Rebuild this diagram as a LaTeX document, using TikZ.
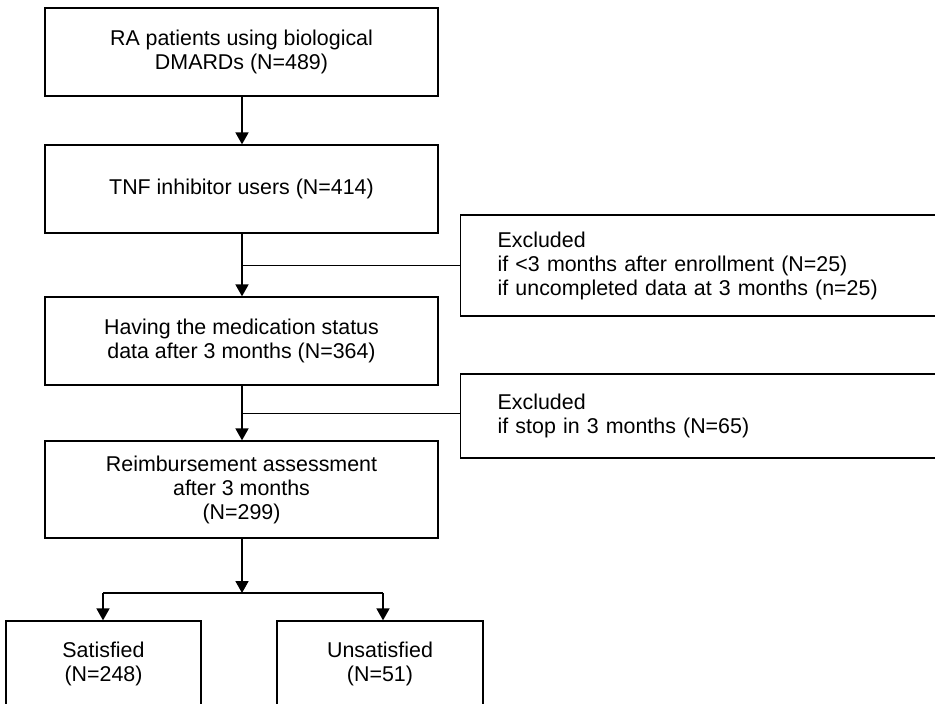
\documentclass[tikz,border=0pt]{standalone}
\usepackage{fontspec}
\setmainfont{Liberation Sans}
\usetikzlibrary{arrows.meta}
\begin{document}
\begin{tikzpicture}[x=1pt,y=-1pt,
  every node/.style={font=\fontsize{21.4}{24}\selectfont},
  mainbox/.style={draw=black,line width=1.3pt,rectangle,align=center,minimum width=393pt,inner sep=0pt},
  exclbox/.style={draw=black,line width=1.3pt,rectangle,align=left,text width=416pt,inner xsep=37pt,inner ysep=0pt,anchor=west},
  stem/.style={line width=1.8pt,-{Triangle[length=12pt,width=13pt]}},
  plainstem/.style={line width=1.8pt},
  branch/.style={line width=1pt}]
\clip (0,0) rectangle (935,704);
\fill[white] (0,0) rectangle (935,704);
\node[mainbox,minimum height=88pt] (b1) at (241.5,52) {RA patients using biological\\DMARDs (N=489)};
\node[mainbox,minimum height=88pt] (b2) at (241.5,189) {TNF inhibitor users (N=414)};
\node[mainbox,minimum height=88pt] (b3) at (241.5,341) {Having the medication status\\data after 3 months (N=364)};
\node[mainbox,minimum height=97pt] (b4) at (241.5,489.5) {Reimbursement assessment\\after 3 months\\(N=299)};
\node[exclbox,minimum height=101pt] (e1) at (460,265.5) {Excluded\\if <3 months after enrollment (N=25)\\if uncompleted data at 3 months (n=25)};
\node[exclbox,minimum height=84pt] (e2) at (460,416) {Excluded\\if stop in 3 months (N=65)};
\node[draw=black,line width=1.3pt,rectangle,align=center,minimum width=195pt,minimum height=85pt,inner sep=0pt] (s) at (103.5,663.5) {Satisfied\\(N=248)};
\node[draw=black,line width=1.3pt,rectangle,align=center,minimum width=206pt,minimum height=85pt,inner sep=0pt] (u) at (380,663.5) {Unsatisfied\\(N=51)};
\coordinate (k1) at (242,265);
\coordinate (k2) at (242,413);
\coordinate (j) at (242,593);
\coordinate (jl) at (103,593);
\coordinate (jr) at (383,593);
\draw[stem] (b1.south -| 242,0) -- (b2.north -| 242,0);
\draw[stem] (b2.south -| 242,0) -- (b3.north -| 242,0);
\draw[stem] (b3.south -| 242,0) -- (b4.north -| 242,0);
\draw[branch] (k1) -- (k1 -| e1.west);
\draw[branch] (k2) -- (k2 -| e2.west);
\draw[stem] (b4.south -| 242,0) -- (j);
\draw[plainstem] (jl) -- (jr);
\draw[stem] (jl) -- (jl |- s.north);
\draw[stem] (jr) -- (jr |- u.north);
\end{tikzpicture}
\end{document}
